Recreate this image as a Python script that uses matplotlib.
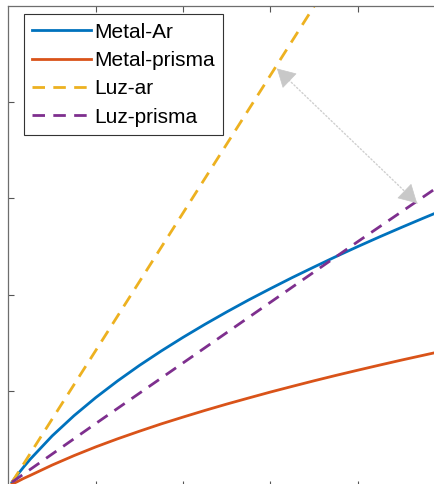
import matplotlib
matplotlib.use("Agg")
import matplotlib.pyplot as plt

plt.rcParams['font.family'] = ['Liberation Sans', 'DejaVu Sans']

# curves (arbitrary units, ticks at 1..4)
x_metal = [0.04, 0.1, 0.17, 0.25, 0.5, 0.75, 1.0, 1.25, 1.5, 1.75, 2.0, 2.25, 2.5,
           2.75, 3.0, 3.25, 3.5, 3.75, 4.0, 4.25, 4.5, 4.75, 5.0]
metal_ar = [0.05, 0.124, 0.204, 0.29, 0.531, 0.741, 0.93, 1.103, 1.264, 1.414, 1.556,
            1.691, 1.82, 1.944, 2.062, 2.177, 2.287, 2.395, 2.499, 2.6, 2.698, 2.794, 2.888]
metal_prisma = [0.03, 0.055, 0.088, 0.121, 0.228, 0.326, 0.417, 0.501, 0.58, 0.656, 0.727,
                0.796, 0.862, 0.925, 0.987, 1.046, 1.104, 1.16, 1.214, 1.267, 1.319, 1.369, 1.419]

x_luz_ar = [0.04, 1.0, 2.0, 3.0, 3.6]
luz_ar = [0.05, 1.42, 2.85, 4.28, 5.14]
x_luz_prisma = [0.04, 1.0, 2.0, 3.0, 4.0, 5.0]
luz_prisma = [0.05, 0.66, 1.29, 1.92, 2.55, 3.17]

arrow_a = (3.075, 4.35)
arrow_b = (4.68, 2.95)

labels = ["Metal-Ar", "Metal-prisma", "Luz-ar", "Luz-prisma"]
colors = ["#0072BD", "#D95319", "#EDB120", "#7E2F8E"]

fig = plt.figure(figsize=(4.35, 4.84), dpi=100)
# axes runs a bit past the right and bottom edges (cropped figure)
ax = fig.add_axes([8.5 / 435, -3 / 484, 436.5 / 435, 481 / 484])

lw = 2.0
ax.plot(x_metal, metal_ar, color=colors[0], lw=lw, label=labels[0])
ax.plot(x_metal, metal_prisma, color=colors[1], lw=lw, label=labels[1])
ax.plot(x_luz_ar, luz_ar, color=colors[2], lw=lw, ls="--", dashes=(4.5, 3), label=labels[2])
ax.plot(x_luz_prisma, luz_prisma, color=colors[3], lw=lw, ls="--", dashes=(4.5, 3), label=labels[3])

# dotted double arrow between the two light lines
ax.annotate("", xy=arrow_a, xytext=arrow_b,
            arrowprops=dict(arrowstyle="-", color="#cfcfcf", lw=1.0, ls=":",
                            shrinkA=0, shrinkB=0))
for tip, tail in [(arrow_a, arrow_b), (arrow_b, arrow_a)]:
    tx = tip[0] + 0.08 * (tail[0] - tip[0])
    ty = tip[1] + 0.08 * (tail[1] - tip[1])
    ax.annotate("", xy=tip, xytext=(tx, ty),
                arrowprops=dict(arrowstyle="-|>,head_length=0.8,head_width=0.45",
                                color="#c8c8c8", lw=0.5, mutation_scale=15,
                                shrinkA=0, shrinkB=0))

ax.set_xlim(0, 5)
ax.set_ylim(0, 5)
ax.set_xticks([1, 2, 3, 4])
ax.set_yticks([1, 2, 3, 4])
ax.tick_params(direction="in", length=4, width=0.8, color="#555555",
               top=True, right=True, labelbottom=False, labelleft=False)
for sp in ax.spines.values():
    sp.set_color("#6e6e6e")
    sp.set_linewidth(0.9)

leg = ax.legend(loc="upper left", bbox_to_anchor=(0.0355, 0.983), borderaxespad=0,
                fontsize=15, handlelength=2.8, handletextpad=0.15,
                labelspacing=0.45, borderpad=0.4, fancybox=False, framealpha=1)
leg.get_frame().set_edgecolor("#333333")
leg.get_frame().set_linewidth(0.8)

fig.savefig("out.png", dpi=100)
